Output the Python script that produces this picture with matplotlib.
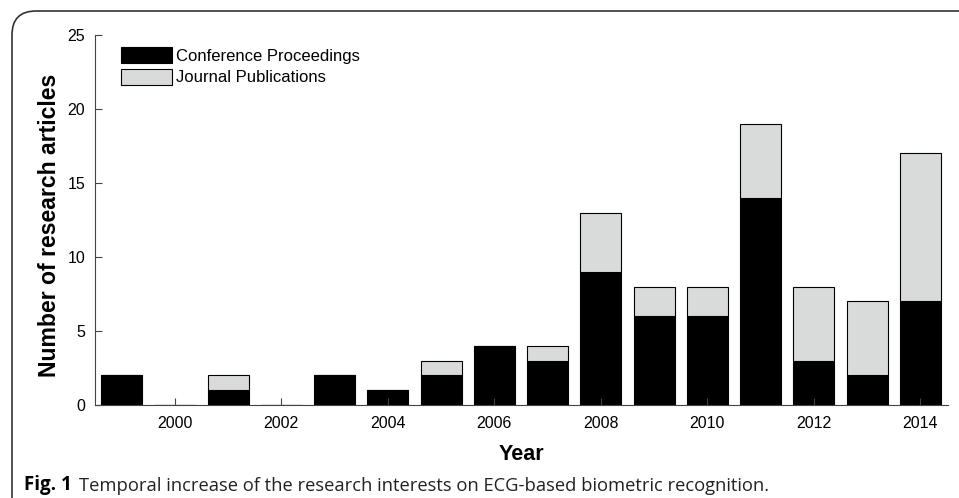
import numpy as np
import matplotlib.pyplot as plt
from matplotlib.patches import FancyBboxPatch

years = np.arange(1999, 2015)
conference = [2, 0, 1, 0, 2, 1, 2, 4, 3, 9, 6, 6, 14, 3, 2, 7]
journal = [0, 0, 1, 0, 0, 0, 1, 0, 1, 4, 2, 2, 5, 5, 5, 10]
xticks = [2000, 2002, 2004, 2006, 2008, 2010, 2012, 2014]
yticks = [0, 5, 10, 15, 20, 25]

plt.rcParams['font.family'] = ['Liberation Sans', 'DejaVu Sans']

fig = plt.figure(figsize=(9.59, 4.98), dpi=100)
ax = fig.add_axes([0.099, 0.1867, 0.8895, 0.743])

ax.bar(years, conference, width=0.77, color='black', edgecolor='black',
       linewidth=0.8, label='Conference Proceedings')
ax.bar(years, journal, width=0.77, bottom=conference, color='#d9dada',
       edgecolor='black', linewidth=0.8, label='Journal Publications')

ax.set_xlim(1998.5, 2014.52)
ax.set_ylim(0, 25)
ax.set_xticks(xticks)
ax.set_yticks(yticks)
ax.tick_params(direction='in', labelsize=11.5, length=5, width=0.8, colors='#444444',
               labelcolor='black')
ax.tick_params(axis='y', pad=7)
ax.tick_params(axis='x', pad=8)
for s in ['top', 'right']:
    ax.spines[s].set_visible(False)
for s in ['left', 'bottom']:
    ax.spines[s].set_color('#444444')
    ax.spines[s].set_linewidth(0.8)

ax.set_xlabel('Year', fontsize=15.5, fontweight='bold', labelpad=9)
ax.set_ylabel('Number of research articles', fontsize=16.6, fontweight='bold', labelpad=5)
ax.yaxis.label.set_y(0.486)

ax.legend(loc='upper left', bbox_to_anchor=(0.0165, 0.999), frameon=False, fontsize=12,
          handlelength=3.1, handleheight=1.1, handletextpad=0.2, labelspacing=0.3,
          borderaxespad=0.3)

# rounded frame around the figure (open to right and bottom)
frame = FancyBboxPatch((12 / 959, -0.2), 1.2, 1.2 - 11 / 498,
                       boxstyle='round,pad=0,rounding_size=0.025',
                       transform=fig.transFigure, fill=False,
                       edgecolor='#333333', linewidth=1.2, mutation_aspect=959 / 498)
fig.patches.append(frame)

cap_font = ['Open Sans', 'DejaVu Sans']
t1 = fig.text(24 / 959, 1 - 490 / 498, 'Fig. 1', fontsize=13.5, fontweight='bold',
              family=cap_font, va='baseline')
plt.annotate('Temporal increase of the research interests on ECG-based biometric recognition.',
             xy=(1, 0), xycoords=t1, xytext=(5, 0), textcoords='offset points',
             fontsize=13.2, family=cap_font, va='bottom', ha='left', color='#222222')

fig.savefig('out.png', dpi=100)
